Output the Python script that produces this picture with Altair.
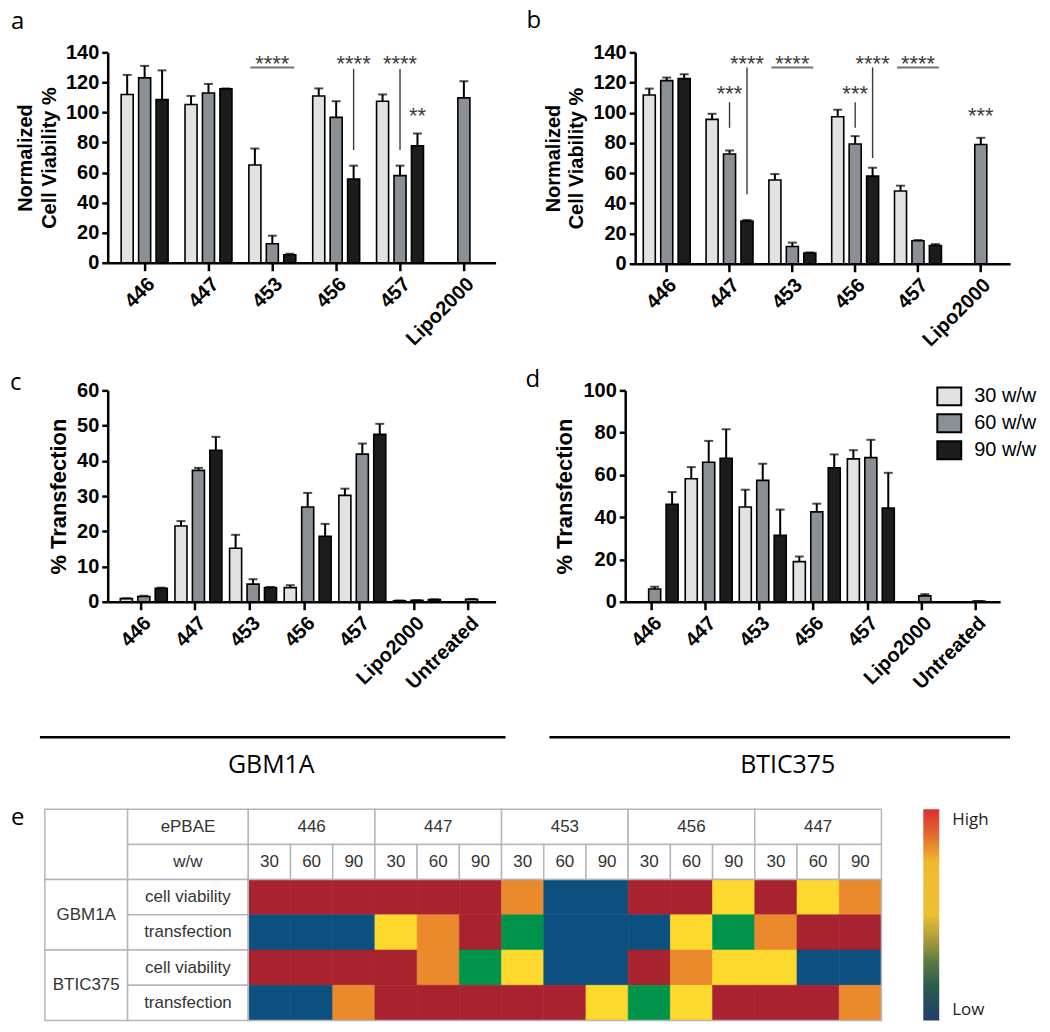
import altair as alt
import pandas as pd

# ---------------- data ----------------
SERIES = ["30 w/w", "60 w/w", "90 w/w"]
SERIES_COLORS = ["#e1e3e2", "#8a9095", "#1c1c1c"]

CATS_AB = ["446", "447", "453", "456", "457", "Lipo2000"]
CATS_CD = ["446", "447", "453", "456", "457", "Lipo2000", "Untreated"]

# a: GBM1A normalized cell viability (None = no bar)
A_30 = [112, 105.3, 65, 111, 107.5, None]
A_30_ERR = [13, 5.7, 11, 5, 4.5, None]
A_60 = [123, 113, 12.6, 96.7, 58, 109.7]
A_60_ERR = [8, 6, 5.4, 10.8, 6.6, 11.1]
A_90 = [108.6, 115.7, 5.3, 55.7, 77.9, None]
A_90_ERR = [19.4, 0.3, 0.7, 8.9, 8.1, None]

# b: BTIC375 normalized cell viability
B_30 = [111.8, 95.6, 55.5, 97.3, 48.2, None]
B_30_ERR = [4.2, 3.7, 3.9, 4.7, 3.5, None]
B_60 = [121.3, 72.7, 11.4, 79.3, 15.2, 79]
B_60_ERR = [2, 2.3, 2.6, 5.2, 0.5, 4.4]
B_90 = [122.6, 28.2, 7, 58, 12.1, None]
B_90_ERR = [2.9, 0.8, 0.5, 5.6, 0.9, None]

# c: GBM1A % transfection
C_30 = [0.9, 21.5, 15.2, 4.0, 30.2, 0.3, None]
C_30_ERR = [0.1, 1.4, 3.8, 0.7, 1.9, 0.05, None]
C_60 = [1.5, 37.3, 5.0, 26.9, 41.9, 0.4, 0.7]
C_60_ERR = [0.2, 0.7, 1.4, 4.0, 3.0, 0.05, 0.1]
C_90 = [3.8, 43.0, 4.0, 18.6, 47.5, 0.6, None]
C_90_ERR = [0.2, 3.8, 0.2, 3.5, 3.0, 0.1, None]

# d: BTIC375 % transfection
D_30 = [None, 58.2, 44.8, 19.0, 67.6, None, None]
D_30_ERR = [None, 5.5, 8.2, 2.4, 4.1, None, None]
D_60 = [6.0, 66.0, 57.4, 42.5, 68.2, 2.8, 0.3]
D_60_ERR = [1.1, 10.1, 7.9, 3.9, 8.4, 0.8, 0.0]
D_90 = [46.1, 67.9, 31.4, 63.4, 44.3, None, None]
D_90_ERR = [5.8, 13.7, 12.2, 6.3, 16.7, None, None]

# significance annotations
A_HLINES = [("453", 130)]
A_VLINES = [("456", "90 w/w", 75, 129), ("457", "60 w/w", 75, 129)]
A_TEXTS = [("453", "60 w/w", 127.5, "****"), ("456", "90 w/w", 127.5, "****"),
           ("457", "60 w/w", 127.5, "****"), ("457", "90 w/w", 93, "**")]
B_HLINES = [("453", 130), ("457", 130)]
B_VLINES = [("447", "60 w/w", 90, 107), ("447", "90 w/w", 46, 130),
            ("456", "60 w/w", 90, 107), ("456", "90 w/w", 70, 130)]
B_TEXTS = [("447", "60 w/w", 107.5, "***"), ("447", "90 w/w", 127.5, "****"),
           ("453", "60 w/w", 127.5, "****"), ("456", "60 w/w", 107.5, "***"),
           ("456", "90 w/w", 127.5, "****"), ("457", "60 w/w", 127.5, "****"),
           ("Lipo2000", "60 w/w", 93, "***")]

CELL_LINES = ["GBM1A", "BTIC375"]

# e: heat table
GROUPS = ["446", "447", "453", "456", "447"]
WW = ["30", "60", "90"]
MEASURES = ["cell viability", "transfection"]
HEAT_GBM1A_CV = list("RRRRRROBBRRYRYO")
HEAT_GBM1A_TF = list("BBBYORGBBBYGORR")
HEAT_BTIC_CV = list("RRRROGYBBROYYBB")
HEAT_BTIC_TF = list("BBORRRRRYGYRRRO")
LEVEL_COLORS = {"R": "#a8232f", "O": "#ea8a2c", "Y": "#fdd92e", "G": "#00944a", "B": "#0c5080"}
SCALE_LABELS = ["High", "Low"]

GRAD_STOPS = [(0.0, "#db2f2f"), (0.12, "#e2692f"), (0.25, "#efb92f"), (0.5, "#eebf33"),
              (0.62, "#a89a3c"), (0.72, "#5e7a44"), (0.84, "#2a5a4c"), (1.0, "#223d6c")]

AXIS_FONT = "Liberation Sans"
LABEL_FONT = "Open Sans"


def letter(txt, dx, dy):
    return alt.Chart(pd.DataFrame({"t": [txt]})).mark_text(
        font=LABEL_FONT, fontSize=24, color="black", align="left", baseline="alphabetic").encode(
        x=alt.value(dx), y=alt.value(dy), text="t:N")


def bar_panel(cats, vals, errs, ydom, yvals, ytitle, width, height, p_in, p_out, align,
              hlines, vlines, texts, label, lx, ly, legend, title_size=20, hsize=44):
    rows = []
    for s, v, e in zip(SERIES, vals, errs):
        for c, vv, ee in zip(cats, v, e):
            if vv is None:
                continue
            rows.append({"cat": c, "series": s, "value": vv, "top": vv + ee})
    df = pd.DataFrame(rows)

    x = alt.X("cat:N", sort=cats, title=None,
              scale=alt.Scale(domain=cats, paddingInner=p_in, paddingOuter=p_out, align=align),
              axis=alt.Axis(labelAngle=-45, labelFont=AXIS_FONT, labelFontSize=20,
                            labelFontWeight="bold", labelColor="black", labelPadding=3,
                            labelOverlap=False,
                            domainColor="black", domainWidth=2.5, tickColor="black",
                            tickWidth=2.5, tickSize=8, grid=False))
    xo = alt.XOffset("series:N", sort=SERIES,
                     scale=alt.Scale(domain=SERIES, paddingInner=0.31, paddingOuter=0))
    yscale = alt.Scale(domain=ydom, nice=False)
    yaxis = alt.Axis(values=yvals, title=ytitle, titleFont=AXIS_FONT,
                     titleFontSize=title_size, titleFontWeight="bold", titleColor="black",
                     titleLineHeight=24, titlePadding=6, labelOverlap=False,
                     labelFont=AXIS_FONT, labelFontSize=20, labelFontWeight="bold",
                     labelColor="black", labelPadding=3, domainColor="black",
                     domainWidth=2.5, tickColor="black", tickWidth=2.5, tickSize=6,
                     grid=False)

    def Y(field):
        return alt.Y(field, scale=yscale, axis=yaxis)

    if legend:
        leg = alt.Legend(orient="none", legendX=312, legendY=-7, title=None,
                         symbolType="M-1,-0.75L1,-0.75L1,0.75L-1,0.75Z", symbolSize=576,
                         symbolStrokeColor="black", symbolStrokeWidth=2, symbolOpacity=1,
                         labelFont=AXIS_FONT, labelFontSize=20, labelColor="black",
                         labelOffset=12, rowPadding=1, padding=0)
    else:
        leg = None
    color = alt.Color("series:N", sort=SERIES,
                      scale=alt.Scale(domain=SERIES, range=SERIES_COLORS), legend=leg)

    bars = alt.Chart(df).mark_bar(stroke="black", strokeWidth=1.6, opacity=1).encode(
        x=x, xOffset=xo, y=Y("value:Q"), color=color)
    err = alt.Chart(df).mark_rule(color="black", strokeWidth=2).encode(
        x=x, xOffset=xo, y=Y("value:Q"), y2="top:Q")
    cap = alt.Chart(df).mark_tick(color="black", thickness=2, size=9, orient="horizontal").encode(
        x=x, xOffset=xo, y=Y("top:Q"))
    layers = [bars, err, cap]

    if hlines:
        hdf = pd.DataFrame([{"cat": c, "series": "60 w/w", "v": v} for c, v in hlines])
        layers.append(alt.Chart(hdf).mark_tick(color="#3a3a3a", thickness=2, size=hsize,
                                               orient="horizontal").encode(
            x=x, xOffset=xo, y=Y("v:Q")))
    if vlines:
        vdf = pd.DataFrame([{"cat": c, "series": s, "v1": a, "v2": b} for c, s, a, b in vlines])
        layers.append(alt.Chart(vdf).mark_rule(color="#3a3a3a", strokeWidth=1.4).encode(
            x=x, xOffset=xo, y=Y("v1:Q"), y2="v2:Q"))
    if texts:
        tdf = pd.DataFrame([{"cat": c, "series": s, "v": v, "t": t} for c, s, v, t in texts])
        layers.append(alt.Chart(tdf).mark_text(font=AXIS_FONT, fontSize=22, color="#3a3a3a",
                                               baseline="alphabetic").encode(
            x=x, xOffset=xo, y=Y("v:Q"), text="t:N"))
    layers.append(letter(label, lx, ly))

    return alt.layer(*layers).properties(width=width, height=height)


panel_a = bar_panel(CATS_AB, [A_30, A_60, A_90], [A_30_ERR, A_60_ERR, A_90_ERR],
                    [0, 140], list(range(0, 141, 20)), ["Normalized", "Cell Viability %"],
                    389, 211, 0.265, 0.17, 0.62, A_HLINES, A_VLINES, A_TEXTS,
                    "a", -97, -23, False)
panel_b = bar_panel(CATS_AB, [B_30, B_60, B_90], [B_30_ERR, B_60_ERR, B_90_ERR],
                    [0, 140], list(range(0, 141, 20)), ["Normalized", "Cell Viability %"],
                    376, 212, 0.265, 0.117, 0.55, B_HLINES, B_VLINES, B_TEXTS,
                    "b", -109, -24, False, hsize=42)
panel_c = bar_panel(CATS_CD, [C_30, C_60, C_90], [C_30_ERR, C_60_ERR, C_90_ERR],
                    [0, 60], list(range(0, 61, 10)), "% Transfection",
                    389, 212, 0.25, 0.175, 0.66, [], [], [], "c", -98, 0, False, title_size=22)
panel_d = bar_panel(CATS_CD, [D_30, D_60, D_90], [D_30_ERR, D_60_ERR, D_90_ERR],
                    [0, 100], list(range(0, 101, 20)), "% Transfection",
                    376, 212, 0.25, 0.094, 0.59, [], [], [], "d", -100, -3, True, title_size=22)

row1 = alt.hconcat(panel_a, panel_b, spacing=31).resolve_scale(color="independent").resolve_legend(color="independent")
row2 = alt.hconcat(panel_c, panel_d, spacing=30).resolve_scale(color="independent").resolve_legend(color="independent")

# ---- row 3: cell-line brackets + heat table + colour bar ----
COL_UNIT = 42.33            # px per data column
LEFT_PX = 141               # px from panel origin to first data column
UNIT_W0 = 1.96
UNIT_W1 = 2.86
cells, texts, colored = [], [], []
x_l0, x_l1 = -(UNIT_W0 + UNIT_W1), -UNIT_W1
cells.append(dict(x0=x_l0, x1=x_l1, y0=0, y1=2))
cells.append(dict(x0=x_l1, x1=0, y0=0, y1=1)); texts.append(dict(x=x_l1 / 2, y=0.5, t="ePBAE"))
cells.append(dict(x0=x_l1, x1=0, y0=1, y1=2)); texts.append(dict(x=x_l1 / 2, y=1.5, t="w/w"))
for g, name in enumerate(GROUPS):
    cells.append(dict(x0=3 * g, x1=3 * g + 3, y0=0, y1=1))
    texts.append(dict(x=3 * g + 1.5, y=0.5, t=name))
    for k, w in enumerate(WW):
        i = 3 * g + k
        cells.append(dict(x0=i, x1=i + 1, y0=1, y1=2))
        texts.append(dict(x=i + 0.5, y=1.5, t=w))
heat_rows = [HEAT_GBM1A_CV, HEAT_GBM1A_TF, HEAT_BTIC_CV, HEAT_BTIC_TF]
for li, line in enumerate(CELL_LINES):
    cells.append(dict(x0=x_l0, x1=x_l1, y0=2 + 2 * li, y1=4 + 2 * li))
    texts.append(dict(x=(x_l0 + x_l1) / 2, y=3 + 2 * li, t=line))
    for mi, meas in enumerate(MEASURES):
        r = 2 + 2 * li + mi
        cells.append(dict(x0=x_l1, x1=0, y0=r, y1=r + 1))
        texts.append(dict(x=x_l1 / 2, y=r + 0.5, t=meas))
        for i, lev in enumerate(heat_rows[2 * li + mi]):
            colored.append(dict(x0=i, x1=i + 1, y0=r, y1=r + 1, c=LEVEL_COLORS[lev]))

n_cols = 3 * len(GROUPS)
TABLE_W = LEFT_PX + n_cols * COL_UNIT
x_dom = [-LEFT_PX / COL_UNIT, n_cols]
tx = alt.X("x0:Q", scale=alt.Scale(domain=x_dom, nice=False, zero=False), axis=None)
ty = alt.Y("y0:Q", scale=alt.Scale(domain=[0, 6], nice=False, reverse=True), axis=None)
GRID = "#b3b7bb"
white = alt.Chart(pd.DataFrame(cells)).mark_rect(fill="white", stroke=GRID, strokeWidth=1.5).encode(
    x=tx, x2="x1:Q", y=ty, y2="y1:Q")
heat = alt.Chart(pd.DataFrame(colored)).mark_rect(strokeWidth=0.6).encode(
    x=tx, x2="x1:Q", y=ty, y2="y1:Q",
    fill=alt.Fill("c:N", scale=None), stroke=alt.Stroke("c:N", scale=None))
outline = alt.Chart(pd.DataFrame([dict(x0=0, x1=n_cols, y0=2, y1=6)])).mark_rect(
    fill="white", fillOpacity=0, stroke=GRID, strokeWidth=1.5).encode(
    x=tx, x2="x1:Q", y=ty, y2="y1:Q")
ttext = alt.Chart(pd.DataFrame(texts)).mark_text(font=AXIS_FONT, fontSize=17, color="#333333",
                                                 baseline="middle").encode(
    x=alt.X("x:Q", scale=alt.Scale(domain=x_dom, nice=False, zero=False), axis=None),
    y=alt.Y("y:Q", scale=alt.Scale(domain=[0, 6], nice=False, reverse=True), axis=None),
    text="t:N")

one = pd.DataFrame({"k": [0]})
# cell-line brackets above the table
br1 = alt.Chart(one).mark_rule(color="black", strokeWidth=2.5).encode(
    x=alt.value(-68), x2=alt.value(399), y=alt.value(-72))
br2 = alt.Chart(one).mark_rule(color="black", strokeWidth=2.5).encode(
    x=alt.value(443), x2=alt.value(905), y=alt.value(-72))
bt1 = alt.Chart(pd.DataFrame({"t": [CELL_LINES[0]]})).mark_text(
    font=LABEL_FONT, fontSize=25, color="black", baseline="alphabetic").encode(
    x=alt.value(164), y=alt.value(-36), text="t:N")
bt2 = alt.Chart(pd.DataFrame({"t": [CELL_LINES[1]]})).mark_text(
    font=LABEL_FONT, fontSize=25, color="black", baseline="alphabetic").encode(
    x=alt.value(682), y=alt.value(-36), text="t:N")
spacer = alt.Chart(one).mark_rule(opacity=0).encode(
    x=alt.value(0), x2=alt.value(10), y=alt.value(-98))

grad = {"gradient": "linear", "x1": 0, "x2": 0, "y1": 0, "y2": 1,
        "stops": [{"offset": o, "color": c} for o, c in GRAD_STOPS]}
cbar = alt.Chart(one).mark_rect(fill=grad).encode(
    x=alt.value(TABLE_W + 42), x2=alt.value(TABLE_W + 58), y=alt.value(0), y2=alt.value(212))
hi = alt.Chart(pd.DataFrame({"t": [SCALE_LABELS[0]]})).mark_text(
    font=LABEL_FONT, fontSize=17, color="#222", align="left", baseline="alphabetic").encode(
    x=alt.value(TABLE_W + 71), y=alt.value(16), text="t:N")
lo = alt.Chart(pd.DataFrame({"t": [SCALE_LABELS[1]]})).mark_text(
    font=LABEL_FONT, fontSize=17, color="#222", align="left", baseline="alphabetic").encode(
    x=alt.value(TABLE_W + 71), y=alt.value(206), text="t:N")

row3 = alt.layer(white, heat, outline, ttext, br1, br2, bt1, bt2, spacer, cbar, hi, lo,
                 letter("e", -97, 16)).properties(width=TABLE_W, height=212)

chart = alt.vconcat(row1, row2, row3, spacing=18).resolve_scale(
    color="independent").resolve_legend(color="independent").configure_view(
    stroke=None).properties(padding={"left": 2, "top": 0, "right": 5, "bottom": 5})

chart.save("out.html", embed_options={"renderer": "svg", "actions": False})
